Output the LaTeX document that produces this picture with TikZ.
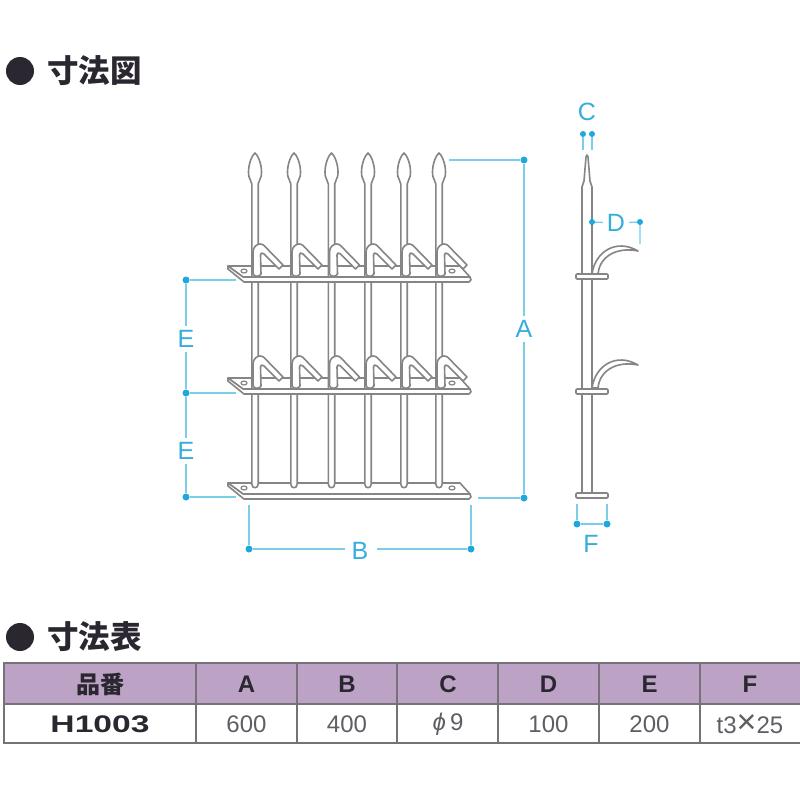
\documentclass[tikz,border=0pt]{standalone}
\usepackage{fontspec}
\setmainfont{Liberation Sans}
\newfontfamily\cjk{Noto Sans CJK JP}
\definecolor{dimblue}{HTML}{7CCDEA}
\definecolor{dotblue}{HTML}{1FA8DC}
\definecolor{labelblue}{HTML}{35AEDD}
\definecolor{steel}{HTML}{858585}
\definecolor{headfill}{HTML}{BCA3C6}
\definecolor{gridgray}{HTML}{77727A}
\definecolor{inkdark}{HTML}{2B2730}
\tikzset{
  fence/.style={draw=steel,line width=1.6pt,fill=white,line join=round},
  dimline/.style={draw=dimblue,line width=1.3pt},
  dimdot/.style={circle,fill=dotblue,inner sep=0pt,minimum size=7pt},
  dimlabel/.style={text=labelblue,font=\fontsize{25}{25}\selectfont,inner sep=4pt},
  bullet/.style={circle,fill=inkdark,inner sep=0pt,minimum size=28pt},
  heading/.style={anchor=west,text=inkdark,inner sep=0pt,font=\cjk\bfseries\fontsize{31.5}{31.5}\selectfont},
  headcell/.style={text=inkdark,font=\bfseries\fontsize{24}{24}\selectfont},
  bodycell/.style={text=inkdark!75,font=\fontsize{24}{24}\selectfont}
}
\begin{document}
\begin{tikzpicture}[x=1pt,y=-1pt]
  \useasboundingbox (0,0) rectangle (800,800);
  \fill[white] (0,0) rectangle (800,800);

  % headings
  \node[bullet] (bulletplan) at (20,71) {};
  \node[heading] (titleplan) at (47,71) {寸法図};
  \node[bullet] (bullettable) at (20,637) {};
  \node[heading] (titletable) at (47,637) {寸法表};

  % front view: plates
  \foreach \py in {266,378,483}{
    \draw[fence] (228,\py) -- (460,\py) -- (470,\py+11) -- (243,\py+11) -- cycle;
    \draw[fence,line width=1.2pt] (244,\py+5) ellipse (3 and 2);
    \draw[fence,line width=1.2pt] (452,\py+5) ellipse (3 and 2);
  }
  % front view: pickets
  \foreach \px in {255,294,331.5,368,404,439}{
    \draw[fence,shift={(\px,0)}] (-3.2,184) .. controls (-3.2,180) and (-6.5,180) .. (-6.5,172)
      .. controls (-6.5,164) and (-3,155) .. (0,153) .. controls (3,155) and (6.5,164) .. (6.5,172)
      .. controls (6.5,180) and (3.2,180) .. (3.2,184) -- (3.2,484)
      .. controls (3.2,489) and (-3.2,489) .. (-3.2,484) -- cycle;
  }
  % front strips and hooks
  \foreach \py in {266,378,483}{
    \draw[fence] (228,\py) -- (243,\py+11) -- (470,\py+11) -- (471,\py+14) -- (469,\py+16) -- (244,\py+16) -- (228,\py+3) -- cycle;
  }
  \foreach \py in {266,378}{
    \foreach \px in {255,294,331.5,368,404,439}{
      \draw[fence,shift={(\px,\py)}] (-2,8) -- (-2,-14) .. controls (-2,-19) and (2,-22) .. (5,-22)
        .. controls (7,-22) and (8,-21.5) .. (9,-20.5) -- (28,-1) -- (24,3) -- (9,-12)
        .. controls (7,-14) and (5.5,-13) .. (5.5,-11) -- (6,8) .. controls (5,11) and (-1,11) .. (-2,8) -- cycle;
    }
  }

  % side view
  \draw[fence] (582,493) -- (582,187) .. controls (582,184) and (584,184) .. (584,181)
    -- (586,157) -- (587,155) -- (588,157) -- (590,181) .. controls (590,184) and (592,184) .. (592,187)
    -- (592,493);
  \foreach \hy in {0,114}{
    \draw[fence,shift={(0,\hy)}] (592,274) .. controls (595,252) and (616,238) .. (638,251)
      .. controls (620,247) and (600,254) .. (598,274) -- cycle;
  }
  \foreach \hy in {274,389,493}{
    \draw[fence,rounded corners=1pt] (576,\hy) rectangle (608,\hy+5);
  }

  % dimension A
  \node[dimdot] (dotatop) at (524,160) {};
  \node[dimdot] (dotabot) at (524,498) {};
  \node[dimlabel] (laba) at (524,329) {A};
  \coordinate (enda1) at (449,160);
  \coordinate (enda2) at (478,498);
  \draw[dimline] (enda1) -- (dotatop) -- (laba) -- (dotabot) -- (enda2);

  % dimension E
  \node[dimdot] (dote1) at (186,280) {};
  \node[dimdot] (dote2) at (186,393) {};
  \node[dimdot] (dote3) at (186,497) {};
  \node[dimlabel] (labe1) at (186,339) {E};
  \node[dimlabel] (labe2) at (186,451) {E};
  \coordinate (ende1) at (236,280);
  \coordinate (ende2) at (236,393);
  \coordinate (ende3) at (236,497);
  \draw[dimline] (ende1) -- (dote1) -- (labe1) -- (dote2) -- (labe2) -- (dote3) -- (ende3);
  \draw[dimline] (dote2) -- (ende2);

  % dimension B
  \node[dimdot] (dotb1) at (249,549) {};
  \node[dimdot] (dotb2) at (471,549) {};
  \node[dimlabel] (labb) at (360,551) {B};
  \coordinate (endb1) at (249,505);
  \coordinate (endb2) at (471,505);
  \coordinate (gapb1) at (345,549);
  \coordinate (gapb2) at (377,549);
  \draw[dimline] (endb1) -- (dotb1) -- (gapb1);
  \draw[dimline] (gapb2) -- (dotb2) -- (endb2);

  % dimension C
  \node[dimlabel] (labc) at (587,112) {C};
  \node[dimdot,minimum size=6pt] (dotc1) at (583,134) {};
  \node[dimdot,minimum size=6pt] (dotc2) at (592,134) {};
  \coordinate (endc1) at (583,150);
  \coordinate (endc2) at (592,150);
  \draw[dimline] (dotc1) -- (endc1);
  \draw[dimline] (dotc2) -- (endc2);

  % dimension D
  \node[dimlabel] (labd) at (616,223) {D};
  \node[dimdot,minimum size=6pt] (dotd1) at (592,222) {};
  \node[dimdot,minimum size=6pt] (dotd2) at (640,222) {};
  \coordinate (endd) at (640,244);
  \draw[dimline] (dotd1) -- (labd) -- (dotd2) -- (endd);

  % dimension F
  \node[dimdot] (dotf1) at (577,524) {};
  \node[dimdot] (dotf2) at (607,524) {};
  \node[dimlabel] (labf) at (591,544) {F};
  \coordinate (endf1) at (577,504);
  \coordinate (endf2) at (607,504);
  \draw[dimline] (endf1) -- (dotf1) -- (dotf2) -- (endf2);

  % table
  \fill[headfill] (4,663) rectangle (800,704);
  \draw[gridgray,line width=1.4pt] (800,663) -- (4,663) -- (4,743) -- (800,743);
  \draw[gridgray,line width=1.4pt] (4,704) -- (800,704);
  \foreach \cx in {196,297,397,498,599,700}{
    \draw[gridgray,line width=1.4pt] (\cx,663) -- (\cx,743);
  }
  \node[headcell,font=\cjk\bfseries\fontsize{24}{24}\selectfont] (headno) at (100,684) {品番};
  \node[headcell,font=\bfseries\fontsize{24}{24}\selectfont,xscale=1.4,transform shape] (bodyno) at (100,724) {H1003};
  \foreach \cx/\hd/\val in {246.5/A/600,347/B/400,448/C/{\textit{ϕ}\,9},548.5/D/100,649.5/E/200,750/F/{t3{\fontsize{34}{24}\selectfont ×}25}}{
    \node[headcell] (head\hd) at (\cx,684) {\hd};
    \node[bodycell] (body\hd) at (\cx,724.5) {\val};
  }
\end{tikzpicture}
\end{document}
